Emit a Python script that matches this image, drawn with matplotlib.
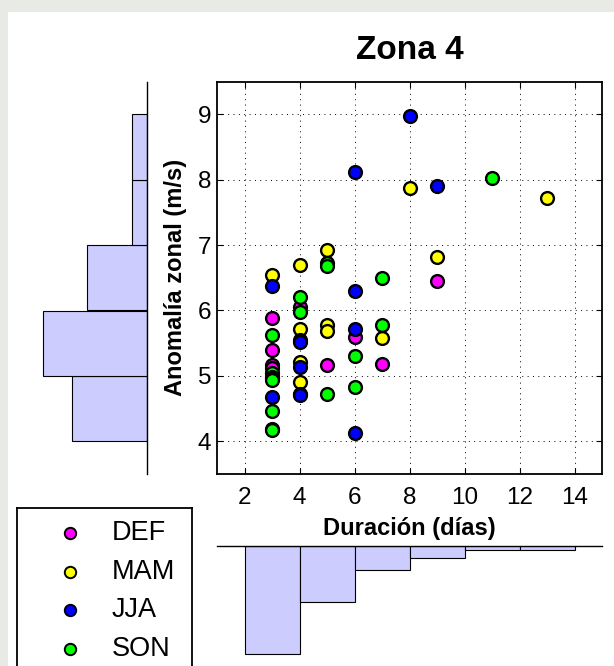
import matplotlib
matplotlib.use("Agg")
import matplotlib.pyplot as plt
import numpy as np

plt.rcParams["font.family"] = ["Liberation Sans", "DejaVu Sans"]

seasons = ["DEF", "MAM", "JJA", "SON"]
season_colors = ["#ff00ff", "#ffff00", "#0000ff", "#00ff00"]

# duration (days) and zonal anomaly (m/s) of each event, by season
def_dur = [3, 3, 3, 3, 4, 5, 6, 7, 9]
def_anom = [5.88, 5.40, 5.17, 5.12, 6.06, 5.17, 5.60, 5.18, 6.45]
mam_dur = [3, 4, 4, 4, 4, 5, 5, 5, 7, 8, 9, 13]
mam_anom = [6.55, 6.70, 5.72, 5.22, 4.91, 6.92, 5.78, 5.68, 5.58, 7.88, 6.82, 7.72]
jja_dur = [3, 3, 4, 4, 4, 4, 4, 6, 6, 6, 6, 8, 9]
jja_anom = [6.38, 4.67, 5.55, 5.52, 5.14, 4.73, 4.71, 8.12, 6.30, 5.72, 4.12, 8.97, 7.90]
son_dur = [3, 3, 3, 3, 3, 3, 3, 3, 4, 4, 5, 5, 5, 6, 6, 7, 7, 11]
son_anom = [5.63, 5.04, 4.99, 4.97, 4.93, 4.47, 4.19, 4.17, 6.21, 5.97, 6.72, 6.68, 4.73, 5.30, 4.83, 6.50, 5.78, 8.02]

# marginal histograms as drawn
dur_bins = np.arange(2, 16, 2)
dur_counts = [27, 14, 6, 3, 1, 1]
anom_bins = np.arange(4, 10, 1)
anom_counts = [15, 21, 12, 3, 3]

season_dur = [def_dur, mam_dur, jja_dur, son_dur]
season_anom = [def_anom, mam_anom, jja_anom, son_anom]

W, H = 614, 666
fig = plt.figure(figsize=(W / 100, H / 100), dpi=100, facecolor="#e8ebe5")
fig.patches.append(plt.Rectangle((8 / W, 0), 1, 1 - 12 / H, transform=fig.transFigure,
                                 facecolor="white", edgecolor="none", zorder=-10))


def px_axes(x0, y0, x1, y1):
    # pixel box (top-left origin) -> figure axes
    return fig.add_axes([x0 / W, 1 - y1 / H, (x1 - x0) / W, (y1 - y0) / H])


ax = px_axes(217, 81.6, 602, 474)
for dur, anom, col in zip(season_dur, season_anom, season_colors):
    ax.scatter(dur, anom, s=85, c=col, edgecolors="black", linewidths=1.7, zorder=3)
ax.set_xlim(1, 15)
ax.set_ylim(3.5, 9.5)
ax.set_xticks(np.arange(2, 16, 2))
ax.set_yticks(np.arange(4, 10, 1))
ax.grid(True, color="black", linestyle=(0, (1, 4.5)), linewidth=0.7)
ax.tick_params(direction="in", top=True, right=True, length=4, width=0.8, labelsize=17.5)
ax.tick_params(axis="x", pad=9)
ax.tick_params(axis="y", pad=4)
for sp in ax.spines.values():
    sp.set_linewidth(1.3)
ax.set_title("Zona 4", fontsize=24, fontweight="bold", pad=16)
ax.set_xlabel("Duración (días)", fontsize=17, fontweight="bold", labelpad=6)
ax.set_ylabel("Anomalía zonal (m/s)", fontsize=17, fontweight="bold", labelpad=8)

# histogram of anomalies, to the left
axl = px_axes(20, 81.6, 146.7, 474)
axl.barh(anom_bins[:-1], anom_counts, height=1, align="edge",
         color="#ccccff", edgecolor="black", linewidth=0.8)
axl.set_ylim(3.5, 9.5)
axl.set_xlim(126.7 / 4.95, 0)
axl.set_facecolor("none")
for k in ["left", "top", "bottom"]:
    axl.spines[k].set_visible(False)
axl.spines["right"].set_linewidth(1.0)
axl.set_xticks([])
axl.set_yticks([])

# histogram of durations, below
axb = px_axes(217, 546.3, 602, 666)
axb.bar(dur_bins[:-1], dur_counts, width=2, align="edge",
        color="#ccccff", edgecolor="black", linewidth=0.8)
axb.set_xlim(1, 15)
axb.set_ylim(119.7 / 4.0, 0)
axb.set_facecolor("none")
for k in ["left", "right", "bottom"]:
    axb.spines[k].set_visible(False)
axb.spines["top"].set_linewidth(1.0)
axb.set_xticks([])
axb.set_yticks([])

# legend box
axg = px_axes(17.3, 508, 191.7, 700)
axg.set_xlim(0, 174.4)
axg.set_ylim(192, 0)
axg.set_xticks([])
axg.set_yticks([])
for sp in axg.spines.values():
    sp.set_linewidth(1.3)
for i, (name, col) in enumerate(zip(seasons, season_colors)):
    yy = 25 + i * 38.6
    axg.plot([52.7], [yy], "o", ms=8.2, mfc=col, mec="black", mew=1.4)
    axg.text(94.4, yy, name, fontsize=19.5, va="center", ha="left")

fig.savefig("out.png", dpi=100, facecolor=fig.get_facecolor())
